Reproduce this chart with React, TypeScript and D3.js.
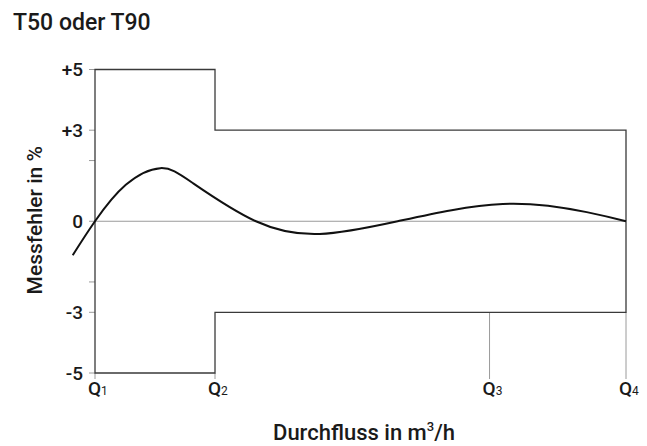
import React, { useRef, useEffect } from "react";
import * as d3 from "d3";

// flow position (Q1 = 0 .. Q4 = 100) and measuring error in %
const flowPos = [-4.2, 0, 5.8, 12.3, 18.5, 30.3, 42.3, 57.0, 76.8, 92.6, 100];
const errorPct = [-1.12, 0, 1.2, 1.75, 1.25, 0, -0.42, 0, 0.57, 0.3, 0];

const qNames = ["1", "2", "3", "4"];
const qPos = [0, 22.6, 74.3, 100];

const yTickValues = [5, 3, 0, -3, -5];
const yTickLabels = ["+5", "+3", "0", "-3", "-5"];
const yMinorTicks = [2, -2];

// error limits: upper/lower tolerance between Q1-Q2 and Q2-Q4
const limitUpper = [5, 3];
const limitLower = [-5, -3];

const font = "Roboto, 'DejaVu Sans', sans-serif";

const App: React.FC = () => {
  const ref = useRef<SVGSVGElement | null>(null);

  useEffect(() => {
    if (!ref.current) return;
    const svg = d3.select(ref.current);
    svg.selectAll("*").remove();

    const x = d3.scaleLinear().domain([0, 100]).range([95, 626]);
    const y = d3.scaleLinear().domain([-5, 5]).range([373, 69.5]);

    const grey = "#9a9a9a";
    const dark = "#3a3a3a";
    const ink = "#1a1a1a";

    // title
    svg
      .append("text")
      .attr("x", 13)
      .attr("y", 30)
      .attr("font-family", font)
      .attr("font-size", 23)
      .attr("font-weight", 500)
      .attr("fill", ink)
      .text("T50 oder T90");

    // y ticks
    const allTicks = yTickValues.concat(yMinorTicks);
    svg
      .append("g")
      .selectAll("line")
      .data(allTicks)
      .join("line")
      .attr("x1", x(0) - 6)
      .attr("x2", x(0))
      .attr("y1", (d) => y(d))
      .attr("y2", (d) => y(d))
      .attr("stroke", grey)
      .attr("stroke-width", 1);

    svg
      .append("g")
      .selectAll("text")
      .data(yTickValues)
      .join("text")
      .attr("x", x(0) - 12)
      .attr("y", (d) => y(d))
      .attr("dy", "0.36em")
      .attr("text-anchor", "end")
      .attr("font-family", font)
      .attr("font-size", 19)
      .attr("font-weight", 500)
      .attr("fill", ink)
      .text((d, i) => yTickLabels[i]);

    // x ticks (Q3, Q4 reach up to lower limit)
    svg
      .append("g")
      .selectAll("line")
      .data(qPos)
      .join("line")
      .attr("x1", (d) => x(d))
      .attr("x2", (d) => x(d))
      .attr("y1", (d) => (d > qPos[1] ? y(limitLower[1]) : y(-5)))
      .attr("y2", y(-5) + 6)
      .attr("stroke", grey)
      .attr("stroke-width", 1);

    const qText = svg
      .append("g")
      .selectAll("text")
      .data(qPos)
      .join("text")
      .attr("x", (d) => x(d) - 7)
      .attr("y", 395)
      .attr("font-family", font)
      .attr("font-size", 19)
      .attr("font-weight", 500)
      .attr("fill", ink);
    qText.append("tspan").text("Q");
    qText
      .append("tspan")
      .attr("font-size", 12)
      .attr("font-weight", 400)
      .text((d, i) => qNames[i]);

    // zero line
    svg
      .append("line")
      .attr("x1", x(0))
      .attr("x2", x(100))
      .attr("y1", y(0))
      .attr("y2", y(0))
      .attr("stroke", grey)
      .attr("stroke-width", 1);

    // tolerance envelope
    const env: [number, number][] = [
      [qPos[0], limitUpper[0]],
      [qPos[1], limitUpper[0]],
      [qPos[1], limitUpper[1]],
      [qPos[3], limitUpper[1]],
      [qPos[3], limitLower[1]],
      [qPos[1], limitLower[1]],
      [qPos[1], limitLower[0]],
      [qPos[0], limitLower[0]],
    ];
    svg
      .append("path")
      .attr(
        "d",
        d3
          .line<[number, number]>()
          .x((d) => x(d[0]))
          .y((d) => y(d[1]))(env) + "Z"
      )
      .attr("fill", "none")
      .attr("stroke", dark)
      .attr("stroke-width", 1.3);

    // error curve
    const pts = flowPos.map((f, i) => [f, errorPct[i]] as [number, number]);
    svg
      .append("path")
      .attr(
        "d",
        d3
          .line<[number, number]>()
          .x((d) => x(d[0]))
          .y((d) => y(d[1]))
          .curve(d3.curveNatural)(pts)
      )
      .attr("fill", "none")
      .attr("stroke", "#111")
      .attr("stroke-width", 2);

    // axis titles
    svg
      .append("text")
      .attr("transform", `translate(42,${y(0) - 1}) rotate(-90)`)
      .attr("text-anchor", "middle")
      .attr("font-family", font)
      .attr("font-size", 21)
      .attr("font-weight", 500)
      .attr("fill", ink)
      .text("Messfehler in %");

    const xt = svg
      .append("text")
      .attr("x", 364)
      .attr("y", 440)
      .attr("text-anchor", "middle")
      .attr("font-family", font)
      .attr("font-size", 22)
      .attr("font-weight", 500)
      .attr("fill", ink);
    xt.append("tspan").text("Durchfluss in m");
    xt.append("tspan").attr("font-size", 13).attr("dy", -9).text("3");
    xt.append("tspan").attr("dy", 9).text("/h");
  }, []);

  return (
    <svg
      ref={ref}
      width={647}
      height={446}
      style={{ position: "absolute", left: 0, top: 0, background: "#fff" }}
    />
  );
};

export default App;
